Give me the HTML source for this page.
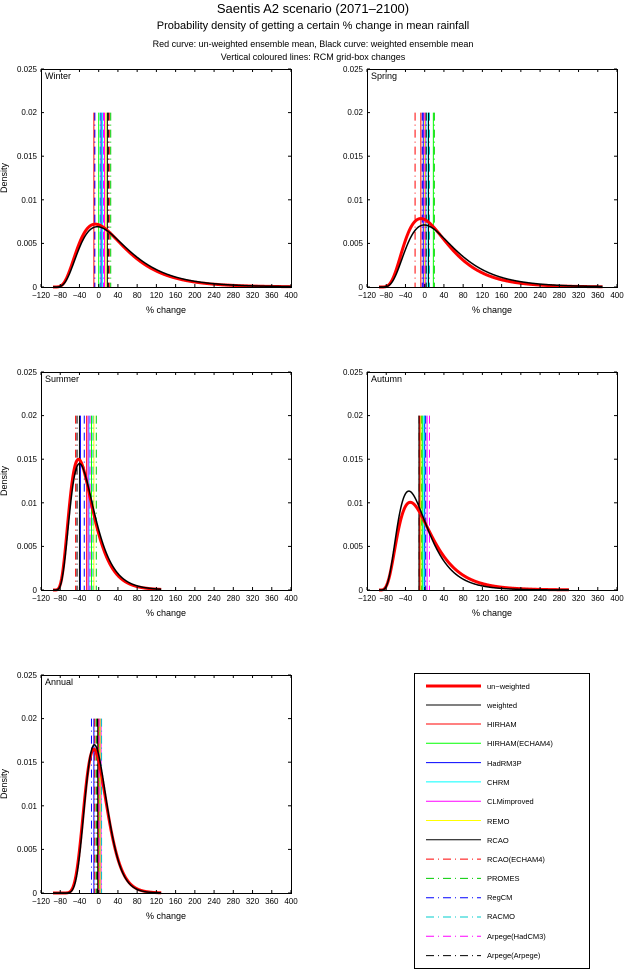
<!DOCTYPE html>
<html><head><meta charset="utf-8"><style>
html,body{margin:0;padding:0;background:#fff;}
svg{display:block;font-family:"Liberation Sans",sans-serif;}
.t{font-size:8px;}
</style></head><body>
<svg id="s" width="626" height="970" viewBox="0 0 626 970" xmlns="http://www.w3.org/2000/svg">
<text x="313" y="13" text-anchor="middle" font-size="13">Saentis A2 scenario (2071–2100)</text>
<text x="313" y="29" text-anchor="middle" font-size="11">Probability density of getting a certain % change in mean rainfall</text>
<text x="313" y="47" text-anchor="middle" font-size="9">Red curve: un-weighted ensemble mean, Black curve: weighted ensemble mean</text>
<text x="313" y="60" text-anchor="middle" font-size="9">Vertical coloured lines: RCM grid-box changes</text>
<defs>
<g id="lab" class="t">
<g text-anchor="middle">
<text x="0" y="229">−120</text><text x="19.2" y="229">−80</text><text x="38.5" y="229">−40</text><text x="57.7" y="229">0</text><text x="76.9" y="229">40</text><text x="96.2" y="229">80</text><text x="115.4" y="229">120</text><text x="134.6" y="229">160</text><text x="153.8" y="229">200</text><text x="173.1" y="229">240</text><text x="192.3" y="229">280</text><text x="211.5" y="229">320</text><text x="230.8" y="229">360</text><text x="250" y="229">400</text>
<text x="125" y="244" font-size="9">% change</text>
</g>
<g text-anchor="end">
<text x="-4" y="221">0</text><text x="-4" y="177">0.005</text><text x="-4" y="134">0.01</text><text x="-4" y="90">0.015</text><text x="-4" y="46">0.02</text><text x="-4" y="3">0.025</text>
</g>
</g>
</defs>
<g transform="translate(41,69)"><use href="#lab"/><text x="4" y="10" font-size="9">Winter</text><text transform="translate(-34,109) rotate(-90)" text-anchor="middle" font-size="9">Density</text><g id="p0"></g></g>
<g transform="translate(367,69)"><use href="#lab"/><text x="4" y="10" font-size="9">Spring</text><g id="p1"></g></g>
<g transform="translate(41,372)"><use href="#lab"/><text x="4" y="10" font-size="9">Summer</text><text transform="translate(-34,109) rotate(-90)" text-anchor="middle" font-size="9">Density</text><g id="p2"></g></g>
<g transform="translate(367,372)"><use href="#lab"/><text x="4" y="10" font-size="9">Autumn</text><g id="p3"></g></g>
<g transform="translate(41,675)"><use href="#lab"/><text x="4" y="10" font-size="9">Annual</text><text transform="translate(-34,109) rotate(-90)" text-anchor="middle" font-size="9">Density</text><g id="p4"></g></g>
<rect x="414.5" y="673.5" width="175" height="295" fill="none" stroke="#000"/>
<g font-size="7.5">
<text x="487" y="689">un−weighted</text>
<text x="487" y="708">weighted</text>
<text x="487" y="727">HIRHAM</text>
<text x="487" y="746">HIRHAM(ECHAM4)</text>
<text x="487" y="766">HadRM3P</text>
<text x="487" y="785">CHRM</text>
<text x="487" y="804">CLMimproved</text>
<text x="487" y="824">REMO</text>
<text x="487" y="843">RCAO</text>
<text x="487" y="862">RCAO(ECHAM4)</text>
<text x="487" y="881">PROMES</text>
<text x="487" y="900">RegCM</text>
<text x="487" y="919">RACMO</text>
<text x="487" y="939">Arpege(HadCM3)</text>
<text x="487" y="958">Arpege(Arpege)</text>
</g>
<g id="leg"></g>
</svg>
<script>
var NS="http://www.w3.org/2000/svg";
function el(p,t,a){var e=document.createElementNS(NS,t);for(var k in a)e.setAttribute(k,a[k]);p.appendChild(e);return e;}
var cols=["#ff0000","#00ff00","#0000ff","#00ffff","#ff00ff","#ffff00","#000000","#ff0000","#00cc00","#0000ff","#00cccc","#ff00ff","#000000"];
var dash=[null,null,null,null,null,null,null,"8,4,1,4","8,4,1,4","8,4,1,4","8,4,1,4","8,4,1,4","8,4,1,4"];
var leg=document.getElementById("leg");
el(leg,"line",{x1:426,x2:481,y1:686,y2:686,stroke:"#f00","stroke-width":3});
el(leg,"line",{x1:426,x2:481,y1:705,y2:705,stroke:"#000","stroke-width":1});
for(var i=0;i<13;i++){var y=724+i*19.3;var a={x1:426,x2:481,y1:y,y2:y,stroke:cols[i],"stroke-width":1};if(dash[i])a["stroke-dasharray"]=dash[i];el(leg,"line",a);}
function X(v){return (v+120)*250/520;}
function Y(d){return 218-d/0.025*218;}
function ln(x,m,s){var r=1+x/100;if(r<=0)return 0;var mu=Math.log(m)+s*s;var z=(Math.log(r)-mu)/s;return Math.exp(-z*z/2)/(r*s*Math.sqrt(2*Math.PI))/100;}
function curve(g,m,s,c,w,lo,hi){var d="";for(var x=lo;x<=hi;x+=1){d+=(d?"L":"M")+X(x).toFixed(2)+","+Y(ln(x,m,s)).toFixed(2);}el(g,"path",{d:d,fill:"none",stroke:c,"stroke-width":w});}
var P=[
 {r:[0.93,0.52],b:[0.97,0.52],lines:[-10,0,5,8,12,15,18,22,25,-8,3,10,20],hi:400},
 {r:[0.92,0.49],b:[0.99,0.5],lines:[-8,18,-3,5,2,0,8,-20,20,-5,10,-1,3],hi:370},
 {r:[0.58,0.42],b:[0.6,0.42],lines:[-25,-15,-38,-20,-22,-10,-40,-48,-5,-30,-12,-18,-45],hi:130},
 {r:[0.7,0.5],b:[0.67,0.47],lines:[-10,-5,0,-2,5,-8,-12,-12,-6,2,0,10,-12],hi:300},
 {r:[0.9,0.26],b:[0.91,0.25],lines:[0,2,-10,4,5,3,-2,-8,-5,-15,6,1,-3],hi:130}
];
for(var p=0;p<5;p++){var g=document.getElementById("p"+p),q=P[p];
 for(var i=0;i<13;i++){var x=X(q.lines[i]);var a={x1:x,x2:x,y1:Y(0.02),y2:218,stroke:cols[i],"stroke-width":1};if(dash[i])a["stroke-dasharray"]=dash[i];el(g,"line",a);}
 curve(g,q.r[0],q.r[1],"#f00",3,-95,q.hi);
 curve(g,q.b[0],q.b[1],"#000",1.5,-95,q.hi);
 el(g,"rect",{x:0.5,y:0.5,width:250,height:218,fill:"none",stroke:"#000"});
 for(var k=0;k<14;k++){var x=k*250/13;el(g,"line",{x1:x,x2:x,y1:218,y2:215,stroke:"#000"});el(g,"line",{x1:x,x2:x,y1:0,y2:3,stroke:"#000"});}
 for(var k=0;k<6;k++){var y=218-k*43.6;el(g,"line",{x1:0,x2:3,y1:y,y2:y,stroke:"#000"});el(g,"line",{x1:250,x2:247,y1:y,y2:y,stroke:"#000"});}
}
</script>
</body></html>
